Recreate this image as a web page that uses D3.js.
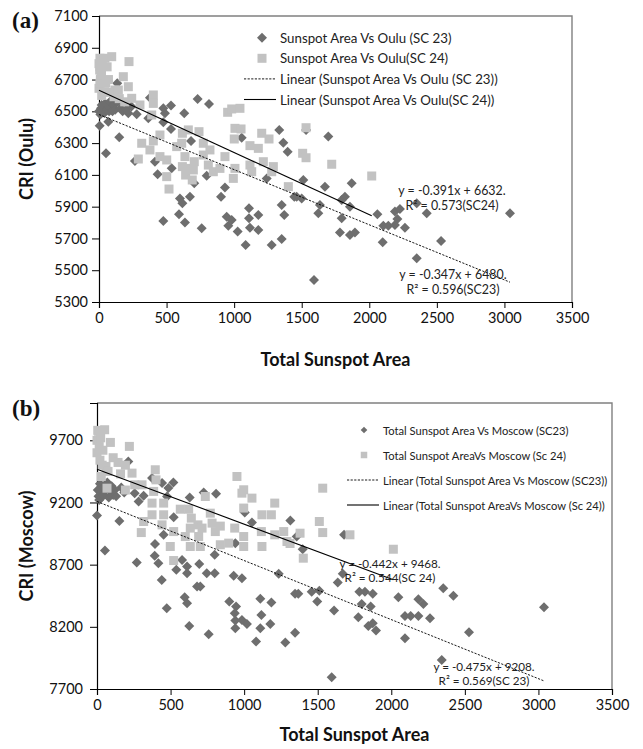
<!DOCTYPE html>
<html><head><meta charset="utf-8">
<script src="https://cdn.jsdelivr.net/npm/d3@7"></script>
<style>body{margin:0;background:#fff}svg{display:block}</style>
</head><body>
<svg id="c" width="643" height="749"></svg>
<script>
// ---------- DATA ----------
const xTicks = [0, 500, 1000, 1500, 2000, 2500, 3000, 3500];
const ouluTicks = [5300, 5500, 5700, 5900, 6100, 6300, 6500, 6700, 6900, 7100];
const moscowTicks = [7700, 8200, 8700, 9200, 9700];

// Panel (a): Total Sunspot Area vs Oulu CRI, SC23 (diamonds)
const oulu23 = [[0,6500],[5,6410],[10,6480],[15,6520],[20,6540],[25,6500],[30,6530],[40,6490],[45,6550],[52,6236],[60,6510],[65,6540],[69,6435],[75,6500],[80,6560],[90,6520],[100,6500],[110,6540],[120,6510],[135,6676],[138,6560],[150,6337],[160,6520],[175,6500],[200,6510],[217,6488],[240,6530],[279,6481],[266,6187],[377,6586],[365,6456],[414,6183],[434,6104],[476,6519],[488,6488],[476,6431],[533,6536],[533,6389],[538,6141],[476,5810],[592,5852],[599,5952],[617,5921],[636,5801],[631,6488],[673,5963],[681,6313],[705,6047],[730,6578],[760,5764],[797,6095],[814,6546],[903,5963],[932,6020],[945,5837],[957,5780],[982,5816],[1026,5743],[1056,6334],[1085,5659],[1110,5890],[1110,5827],[1117,5768],[1179,5848],[1179,5753],[1241,6078],[1278,5659],[1334,6383],[1352,5911],[1352,5697],[1364,6303],[1371,5848],[1396,6246],[1445,5963],[1463,5963],[1500,5952],[1512,6068],[1532,6383],[1591,5438],[1623,5858],[1635,5911],[1672,6026],[1697,6341],[1783,5738],[1796,5942],[1796,5827],[1820,5963],[1857,5900],[1857,5722],[1870,6047],[1894,5738],[2060,5852],[2099,5676],[2104,5780],[2141,5780],[2190,5869],[2190,5785],[2208,5822],[2227,5885],[2264,5768],[2351,5921],[2351,5575],[2425,5858],[2531,5684],[3041,5858]];
// Panel (a): SC24 (squares)
const oulu24 = [[0,6645],[0,6800],[5,6760],[7,6834],[7,6781],[7,6676],[10,6700],[15,6740],[18,6729],[20,6600],[25,6820],[30,6620],[44,6834],[44,6624],[50,6680],[60,6780],[70,6700],[80,6620],[94,6844],[111,6592],[118,6634],[143,6634],[150,6580],[180,6718],[190,6560],[217,6655],[222,6813],[242,6582],[291,6200],[303,6540],[316,6299],[377,6257],[390,6477],[402,6603],[402,6550],[402,6314],[451,6351],[451,6215],[501,6089],[501,6194],[518,6011],[575,6278],[612,6299],[617,6362],[617,6152],[636,6215],[641,6099],[661,6383],[661,6141],[690,6068],[698,6131],[705,6183],[740,6372],[772,6299],[772,6225],[809,6162],[821,6257],[846,6120],[895,6141],[932,6215],[952,6494],[982,6515],[994,6078],[1001,6326],[1006,6393],[1006,6141],[1043,6519],[1051,6389],[1117,6284],[1117,6162],[1130,6120],[1179,6267],[1204,6362],[1216,6183],[1258,6326],[1278,6120],[1290,6152],[1401,6026],[1507,6236],[1532,6208],[1532,6397],[1722,6167],[2018,6093]];

// Panel (b): Total Sunspot Area vs Moscow CRI, SC23 (diamonds)
const moscow23 = [[0,9095],[5,9300],[10,9250],[15,9220],[20,9350],[25,9280],[30,9240],[40,9320],[45,9260],[54,8813],[60,9300],[70,9360],[80,9240],[90,9290],[100,9330],[110,9260],[120,9300],[130,9250],[152,9052],[165,9320],[185,9280],[213,9530],[256,9275],[270,8717],[283,9208],[317,9255],[374,9396],[392,8771],[394,8867],[417,8712],[440,8577],[442,9356],[453,8940],[474,8350],[476,9248],[485,9316],[519,9361],[521,9082],[539,8658],[578,8738],[596,8438],[612,8390],[612,8685],[612,8631],[627,8207],[630,9240],[680,8524],[695,8706],[702,8524],[725,9280],[746,8631],[759,8140],[800,8779],[800,8631],[809,9270],[899,8403],[929,8610],[936,8309],[940,8873],[940,8250],[940,8188],[945,8363],[985,8590],[985,8255],[1004,9119],[1019,8223],[1053,9039],[1081,8081],[1110,8425],[1110,8188],[1117,8296],[1178,8223],[1185,8395],[1235,8626],[1280,8073],[1314,9055],[1346,8153],[1346,8465],[1357,8926],[1368,8465],[1398,8824],[1459,8483],[1497,8403],[1511,8491],[1595,7794],[1611,8331],[1636,8556],[1670,8626],[1679,8940],[1776,8277],[1783,8483],[1799,8384],[1821,8483],[1844,8207],[1860,8363],[1874,8467],[1874,8229],[1896,8170],[2048,8438],[2093,8288],[2093,8108],[2132,8288],[2184,8422],[2184,8288],[2218,8384],[2263,8269],[2343,7933],[2353,8510],[2422,8449],[2528,8156],[3038,8358]];
// Panel (b): SC24 (squares)
const moscow24 = [[0,9600],[0,9700],[5,9780],[11,9772],[15,9650],[20,9540],[25,9720],[29,9409],[35,9500],[40,9620],[52,9785],[61,9490],[68,9315],[75,9450],[91,9683],[110,9560],[143,9522],[160,9430],[193,9500],[193,9300],[220,9651],[238,9436],[256,9342],[301,8958],[306,9342],[317,9047],[374,9195],[374,9101],[385,9289],[396,9463],[401,9382],[442,9020],[453,9195],[453,9101],[498,8846],[521,8733],[521,8966],[566,9146],[600,8926],[623,9146],[634,8994],[634,8846],[641,9074],[686,9020],[691,8926],[702,8846],[714,8994],[736,9248],[770,9114],[782,9034],[804,8966],[838,9010],[838,8860],[895,8873],[936,8994],[951,9409],[985,9275],[997,9302],[997,9155],[997,8926],[997,8846],[1053,9235],[1117,8966],[1121,9101],[1121,8846],[1185,9101],[1208,9195],[1208,8940],[1269,8966],[1291,8886],[1312,8870],[1380,8953],[1402,8752],[1511,9047],[1534,9315],[1534,8958],[1719,8940],[2014,8824]];

// Linear trend coefficients [slope, intercept] as printed on the chart
const ouluFit23 = [-0.347, 6480];
const ouluFit24 = [-0.391, 6632];
const moscowFit23 = [-0.475, 9208];
const moscowFit24 = [-0.442, 9468];

const legendA = ["Sunspot Area Vs Oulu (SC 23)", "Sunspot Area Vs Oulu(SC 24)", "Linear (Sunspot Area Vs Oulu (SC 23))", "Linear (Sunspot Area Vs Oulu(SC 24))"];
const legendB = ["Total Sunspot Area Vs Moscow (SC23)", "Total Sunspot AreaVs Moscow (Sc 24)", "Linear (Total Sunspot Area Vs Moscow (SC23))", "Linear (Total Sunspot AreaVs Moscow (Sc 24))"];
const eqA24 = ["y = -0.391x + 6632.", "R² = 0.573(SC24)"];
const eqA23 = ["y = -0.347x + 6480.", "R² = 0.596(SC23)"];
const eqB24 = ["y = -0.442x + 9468.", "R² = 0.544(SC 24)"];
const eqB23 = ["y = -0.475x + 9208.", "R² = 0.569(SC 23)"];

// ---------- DRAWING ----------
const svg = d3.select("#c");
const C23 = "#6e6e6e", C24 = "#c2c2c2";
const SANS = "Lato, 'Open Sans', sans-serif";

function diamond(r){ return `M0,${-r}L${r},0L0,${r}L${-r},0Z`; }

function panel(cfg){
  const g = svg.append("g");
  const x = d3.scaleLinear().domain([0,3500]).range([cfg.left, cfg.right]);
  const y = d3.scaleLinear().domain(cfg.yDomain).range([cfg.bottom, cfg.top]);

  g.append("path").attr("d", `M${cfg.left},${cfg.top}H${cfg.right}V${cfg.bottom}`)
    .attr("fill","none").attr("stroke","#808080").attr("stroke-width",1.4);

  const xa = g.append("g").attr("transform",`translate(0,${cfg.bottom})`)
    .call(d3.axisBottom(x).tickValues(xTicks).tickFormat(d3.format("d")).tickSize(6).tickPadding(5));
  const ya = g.append("g").attr("transform",`translate(${cfg.left},0)`)
    .call(d3.axisLeft(y).tickValues(cfg.yTicks).tickFormat(d3.format("d")).tickSize(7).tickPadding(cfg.yPad));
  [xa,ya].forEach(a=>{
    a.select(".domain").attr("stroke","#000").attr("stroke-width",1.2);
    a.selectAll(".tick line").attr("stroke","#000");
    a.selectAll("text").style("font-family",SANS).style("font-size",cfg.tickFont+"px").attr("fill","#111");
  });

  g.append("g").selectAll("path").data(cfg.s23).join("path")
    .attr("d", diamond(5)).attr("fill", C23)
    .attr("transform", d=>`translate(${x(d[0])},${y(d[1])})`);
  g.append("g").selectAll("rect").data(cfg.s24).join("rect")
    .attr("x", d=>x(d[0])-4.5).attr("y", d=>y(d[1])-4.5).attr("width",9).attr("height",9)
    .attr("fill", C24);

  function trend(series, fit, dash){
    const ext = d3.extent(series, d=>d[0]);
    const line = d3.line().x(d=>x(d)).y(d=>y(fit[0]*d+fit[1]));
    g.append("path").attr("d", line(ext)).attr("fill","none").attr("stroke","#000")
      .attr("stroke-width", dash ? 0.9 : 1.1).attr("stroke-dasharray", dash ? "2.2,1.4" : null);
  }
  trend(cfg.s23, cfg.fit23, true);
  trend(cfg.s24, cfg.fit24, false);

  function txt(){ return g.append("text").style("font-family",SANS); }

  function eq(lines, cx, cy){
    lines.forEach((t,i)=>txt().attr("x",cx).attr("y",cy+i*cfg.eqGap)
      .attr("text-anchor","middle").attr("dominant-baseline","central")
      .style("font-size",cfg.eqFont+"px").attr("fill","#222").text(t));
  }
  eq(cfg.eq24, cfg.eq24pos[0], cfg.eq24pos[1]);
  eq(cfg.eq23, cfg.eq23pos[0], cfg.eq23pos[1]);

  const L = cfg.legend;
  cfg.legendText.forEach((t,i)=>{
    const yy = L.y0 + i*L.dy;
    txt().attr("x", L.tx).attr("y", yy).attr("dominant-baseline","central")
      .style("font-size", cfg.legFont+"px").attr("fill","#222").text(t);
    if(i===0) g.append("path").attr("d", diamond(L.dr)).attr("fill",C23).attr("transform",`translate(${L.mx},${yy})`);
    if(i===1) g.append("rect").attr("x",L.mx-L.sq/2).attr("y",yy-L.sq/2).attr("width",L.sq).attr("height",L.sq).attr("fill",C24);
    if(i>=2) g.append("line").attr("x1",L.lx0).attr("x2",L.lx1).attr("y1",yy).attr("y2",yy)
      .attr("stroke","#000").attr("stroke-width", i===2?0.9:1.1).attr("stroke-dasharray", i===2?"2.2,1.4":null);
  });

  txt().attr("x",(cfg.left+cfg.right)/2).attr("y",cfg.xTitleY).attr("text-anchor","middle")
    .attr("dominant-baseline","central").style("font-weight","bold").style("font-size","18px").attr("fill","#111").text("Total Sunspot Area");
  txt().attr("transform",`translate(${cfg.yTitleX},${(cfg.top+cfg.bottom)/2}) rotate(-90)`)
    .attr("text-anchor","middle").attr("dominant-baseline","central").style("font-weight","bold")
    .style("font-size","18px").attr("fill","#111").text(cfg.yTitle);
  g.append("text").attr("x",cfg.tag[1]).attr("y",cfg.tag[2]).style("font-family","'Liberation Serif','Times New Roman',serif")
    .style("font-weight","bold").style("font-size","23px").attr("fill","#111").text(cfg.tag[0]);
}

panel({left:99, right:572, top:16, bottom:302, yDomain:[5300,7100], yTicks:ouluTicks, yPad:4,
  tickFont:14.5, s23:oulu23, s24:oulu24, fit23:ouluFit23, fit24:ouluFit24,
  eq24:eqA24, eq24pos:[452,190.5], eq23:eqA23, eq23pos:[453,274.5], eqGap:15, eqFont:12.4,
  legendText:legendA, legFont:13.3,
  legend:{y0:37.7, dy:20.6, tx:280, mx:262, dr:5, sq:9, lx0:244, lx1:276},
  xTitleY:359, yTitleX:26, yTitle:"CRI (Oulu)", tag:["(a)",12,28]});

panel({left:97, right:612, top:403, bottom:689, yDomain:[7700,10000], yTicks:moscowTicks, yPad:7,
  tickFont:14.5, s23:moscow23, s24:moscow24, fit23:moscowFit23, fit24:moscowFit24,
  eq24:eqB24, eq24pos:[390,562.7], eq23:eqB23, eq23pos:[484,666], eqGap:14, eqFont:11.7,
  legendText:legendB, legFont:11.2,
  legend:{y0:430, dy:25, tx:383, mx:364, dr:3.3, sq:6.5, lx0:347, lx1:379},
  xTitleY:734, yTitleX:26, yTitle:"CRI (Moscow)", tag:["(b)",12,416]});
</script>
</body></html>
